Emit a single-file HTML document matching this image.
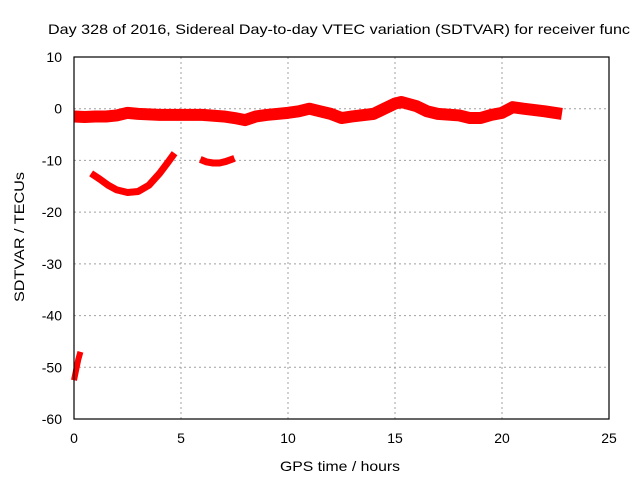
<!DOCTYPE html>
<html><head><meta charset="utf-8"><style>
body{margin:0;background:#fff}
svg text{font-family:"Liberation Sans",sans-serif;font-size:14px;fill:#000}
</style></head><body>
<svg id="chart" width="640" height="480">
<text x="48" y="34" font-size="15" textLength="582" lengthAdjust="spacingAndGlyphs">Day 328 of 2016, Sidereal Day-to-day VTEC variation (SDTVAR) for receiver func</text>
<g id="grid"></g>
<g id="series"></g>
<rect x="74" y="57" width="535" height="362" fill="none" stroke="#000" stroke-width="1.2"/>
<g id="ticks"></g>
<text x="280" y="471" font-size="15" textLength="120" lengthAdjust="spacingAndGlyphs">GPS time / hours</text>
<text transform="translate(24,302) rotate(-90)" font-size="14" textLength="130" lengthAdjust="spacingAndGlyphs">SDTVAR / TECUs</text>
</svg>
<script>
const xTicks=[0,5,10,15,20,25];
const yTicks=[10,0,-10,-20,-30,-40,-50,-60];
const bandX=[0,0.5,1,1.5,2,2.5,3,4,5,6,7,7.5,8,8.5,9,10,10.5,11,11.5,12,12.5,13,14,14.5,15,15.3,16,16.5,17,18,18.5,19,19.5,20,20.5,21,22,22.8];
const bandY=[-1.5,-1.6,-1.5,-1.5,-1.3,-0.8,-1,-1.2,-1.2,-1.2,-1.5,-1.8,-2.2,-1.5,-1.2,-0.8,-0.5,0,-0.5,-1,-1.8,-1.5,-1,0,1,1.3,0.5,-0.5,-1,-1.3,-1.8,-1.8,-1.2,-0.8,0.3,0,-0.5,-1];
const arcX=[0.8,1.2,1.6,2,2.5,3,3.5,4,4.4,4.7];
const arcY=[-12.5,-13.6,-14.8,-15.7,-16.2,-16,-14.8,-12.5,-10.3,-8.6];
const arc2X=[5.9,6.2,6.5,6.8,7.1,7.5];
const arc2Y=[-9.8,-10.3,-10.5,-10.5,-10.2,-9.6];
const seg3X=[0,0.1,0.2,0.3];
const seg3Y=[-52.5,-50.5,-48.5,-47];
const X=v=>74+v*535/25, Y=v=>57+(10-v)*362/70;
const ns="http://www.w3.org/2000/svg";
const grid=document.getElementById('grid'),ticks=document.getElementById('ticks'),ser=document.getElementById('series');
function mk(p,tag,a){const e=document.createElementNS(ns,tag);for(const k in a)e.setAttribute(k,a[k]);p.appendChild(e);return e;}
xTicks.forEach(t=>{
 if(t>0&&t<25){const g=mk(grid,'line',{x1:X(t),x2:X(t),y1:57,y2:419,stroke:'#a0a0a0','stroke-dasharray':'2,3'});
 
 }
 const l=mk(ticks,'text',{x:X(t),y:443,'text-anchor':'middle'});l.textContent=t;
 
 
});
yTicks.forEach(t=>{
 if(t<10&&t>-60){const g=mk(grid,'line',{x1:74,x2:609,y1:Y(t),y2:Y(t),stroke:'#a0a0a0','stroke-dasharray':'2,3'});
 
 }
 const l=mk(ticks,'text',{x:62,y:Y(t)+5,'text-anchor':'end'});l.textContent=t;
 
 
});
function line(xs,ys,w,name){
 const p=mk(ser,'polyline',{points:xs.map((x,i)=>X(x)+','+Y(ys[i])).join(' '),fill:'none',stroke:'#ff0000','stroke-width':w,'stroke-linejoin':'round'});
 
 
}
line(bandX,bandY,12,'main-band');
line(arcX,arcY,7,'arc-segment');
line(arc2X,arc2Y,7,'small-arc-segment');
line(seg3X,seg3Y,6,'early-segment');
</script>
</body></html>
